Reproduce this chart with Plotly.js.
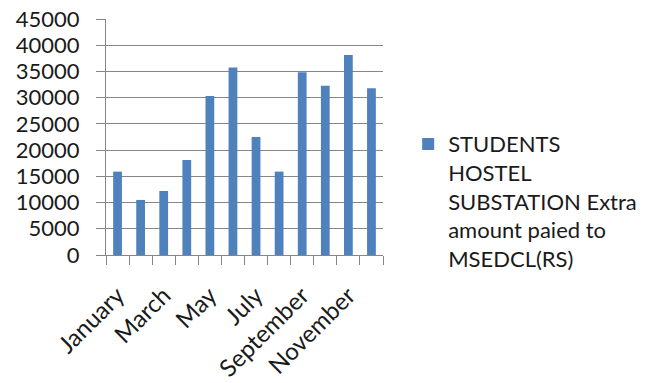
<!DOCTYPE html>
<html>
<head>
<meta charset="utf-8">
<script src="https://cdn.plot.ly/plotly-3.0.1.min.js"></script>
<style>html,body{margin:0;padding:0;background:#fff;}#chart{width:651px;height:383px;}</style>
</head>
<body>
<div id="chart"></div>
<script>
const months = ["January","February","March","April","May","June","July","August","September","October","November","December"];
const monthLabels = ["January","","March","","May","","July","","September","","November",""];
const values = [15900, 10500, 12200, 18100, 30300, 35750, 22500, 15900, 34850, 32250, 38150, 31800];
const seriesName = "STUDENTS<br>HOSTEL<br>SUBSTATION Extra<br>amount paied to<br>MSEDCL(RS)";
const yTicks = [0,5000,10000,15000,20000,25000,30000,35000,40000,45000];

const trace = {
  type: "bar",
  x: months,
  y: values,
  name: seriesName,
  marker: {color: "#4F81BD"},
  showlegend: true
};

const font = {family: "Lato, 'Open Sans', sans-serif", size: 22, color: "#1a1a1a"};

const layout = {
  width: 651, height: 383,
  margin: {l: 106, r: 268, t: 19, b: 128, autoexpand: false},
  paper_bgcolor: "#fff", plot_bgcolor: "#fff",
  font: font,
  bargap: 0.62,
  showlegend: true,
  legend: {xref: "container", yref: "container", x: 0.627, xanchor: "left", y: 0.475, yanchor: "middle", valign: "top",
           font: {family: font.family, size: 22, color: "#1a1a1a"}, bgcolor: "rgba(0,0,0,0)"},
  xaxis: {
    type: "category",
    tickmode: "array", tickvals: months, ticktext: monthLabels,
    tickangle: -45, tickson: "boundaries",
    ticks: "outside", ticklen: 9, tickcolor: "#868686",
    showline: true, linecolor: "#868686", linewidth: 1,
    showgrid: false, ticklabelstandoff: 16, automargin: false,
    tickfont: {family: font.family, size: 24, color: "#1a1a1a"}
  },
  yaxis: {
    range: [0, 45000],
    tickmode: "array", tickvals: yTicks, ticktext: yTicks.map(String),
    ticks: "outside", ticklen: 9, tickcolor: "#868686",
    showline: true, linecolor: "#868686", linewidth: 1,
    showgrid: true, gridcolor: "#868686", gridwidth: 1,
    zeroline: false, ticklabelstandoff: 12, automargin: false,
    tickfont: {family: font.family, size: 22, color: "#1a1a1a"}
  }
};

Plotly.newPlot("chart", [trace], layout, {displayModeBar: false, staticPlot: true});
</script>
</body>
</html>
